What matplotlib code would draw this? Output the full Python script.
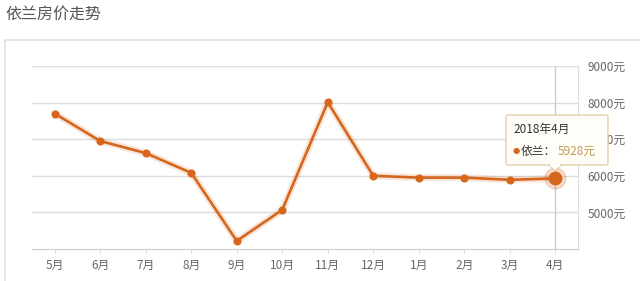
import matplotlib
matplotlib.use("Agg")
import matplotlib.pyplot as plt
from matplotlib.patches import Rectangle, FancyBboxPatch, Polygon

plt.rcParams['font.family'] = ['Noto Sans CJK SC', 'DejaVu Sans']

# === 数据 ===
months = ['5月', '6月', '7月', '8月', '9月', '10月', '11月', '12月', '1月', '2月', '3月', '4月']
prices = [7700, 6950, 6620, 6080, 4220, 5070, 8010, 6000, 5950, 5950, 5890, 5928]
ytick_vals = [5000, 6000, 7000, 8000, 9000]
ytick_labels = ['5000元', '6000元', '7000元', '8000元', '9000元']
title = '依兰房价走势'
tip_title = '2018年4月'
tip_name = '依兰：'
tip_value = '5928元'

W, H = 640, 281
LINE = '#d6661c'


def fx(px):
    return px / W


def fy(py):
    return 1 - py / H


fig = plt.figure(figsize=(W / 100, H / 100), dpi=100)
fig.patch.set_facecolor('white')

# 外框
fig.patches.append(Rectangle((fx(5), fy(300)), fx(700), fy(40) - fy(300),
                             transform=fig.transFigure, facecolor='none',
                             edgecolor='#e2e2e2', linewidth=1.2, zorder=-1))
fig.text(fx(5), fy(14), title, fontsize=11.5, color='#555555', va='center', ha='left')

ax = fig.add_axes([fx(32), fy(249), fx(578) - fx(32), fy(66) - fy(249)])
ax.set_zorder(1)
ax.set_facecolor('none')
x = list(range(len(months)))

# 光晕 + 主线
ax.plot(x, prices, color=LINE, lw=5, alpha=0.16, solid_capstyle='round', zorder=2)
ax.plot(x, prices, color=LINE, lw=1.9, marker='o', markersize=4.8,
        markeredgecolor=LINE, zorder=3)
# 高亮最后一个点
ax.plot(x[-1], prices[-1], 'o', color=LINE, markersize=15, alpha=0.22, zorder=3)
ax.plot(x[-1], prices[-1], 'o', color=LINE, markersize=9, zorder=4)
# 悬停竖线
ax.axvline(x[-1], color='#cccccc', lw=1, zorder=1)

ax.set_xlim(-0.5, len(months) - 0.5)
ax.set_ylim(4000, 9000)
ax.set_xticks(x)
ax.set_xticklabels(months)
ax.set_yticks(ytick_vals)
ax.set_yticklabels(ytick_labels)
ax.yaxis.tick_right()
ax.grid(axis='y', color='#dddddd', lw=1)
ax.set_axisbelow(True)
for s in ['left', 'top']:
    ax.spines[s].set_visible(False)
ax.spines['right'].set_color('#dddddd')
ax.spines['bottom'].set_color('#cccccc')
ax.tick_params(axis='y', length=0, pad=7, labelsize=8.5, labelcolor='#666666')
ax.tick_params(axis='x', length=3, color='#dddddd', pad=4, labelsize=8.5, labelcolor='#666666')

# 提示框
fig.patches.append(FancyBboxPatch((fx(506), fy(165)), fx(608) - fx(506), fy(115) - fy(165),
                                  boxstyle='round,pad=0,rounding_size=0.004',
                                  transform=fig.transFigure, facecolor='#fffdf8',
                                  edgecolor='#e6cfa8', linewidth=1, zorder=5))
fig.patches.append(Polygon([(fx(549), fy(165)), (fx(561), fy(165)), (fx(555), fy(171))],
                           closed=True, transform=fig.transFigure, facecolor='#fffdf8',
                           edgecolor='#e6cfa8', linewidth=1, zorder=5))
fig.patches.append(Rectangle((fx(550), fy(166.5)), fx(10), fy(164) - fy(166.5),
                             transform=fig.transFigure, facecolor='#fffdf8',
                             edgecolor='none', zorder=6))
fig.text(fx(513), fy(129), tip_title, fontsize=8.5, color='#333333', va='center', zorder=7)
fig.text(fx(513), fy(151), '●', fontsize=6, color=LINE, va='center', zorder=7, family='DejaVu Sans')
fig.text(fx(521), fy(151), tip_name, fontsize=8.5, color='#333333', va='center', zorder=7)
fig.text(fx(558), fy(151), tip_value, fontsize=8.5, color='#c49a55', va='center', zorder=7)

fig.savefig('out.png', dpi=100)
